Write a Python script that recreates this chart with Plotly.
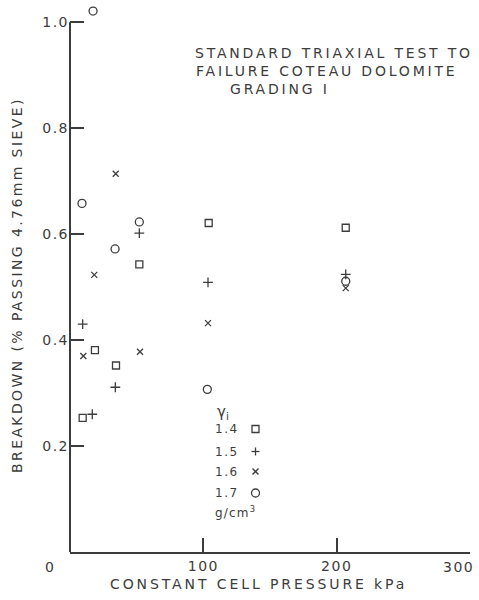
import plotly.graph_objects as go

# Constant cell pressure (kPa) and breakdown (% passing 4.76 mm sieve)
# for each initial dry density group
density_labels = ["1.4", "1.5", "1.6", "1.7"]

x_14 = [9.5, 18.7, 34.5, 52.0, 104.0, 206.8]
y_14 = [0.253, 0.381, 0.352, 0.543, 0.621, 0.612]

x_15 = [9.5, 16.7, 34.0, 52.0, 103.5, 206.8]
y_15 = [0.430, 0.260, 0.311, 0.602, 0.509, 0.524]

x_16 = [10.0, 18.2, 34.3, 52.5, 103.5, 206.8]
y_16 = [0.370, 0.523, 0.714, 0.378, 0.432, 0.498]

x_17 = [9.0, 17.3, 33.8, 52.0, 103.0, 206.8]
y_17 = [0.658, 1.021, 0.572, 0.623, 0.307, 0.511]

x_ticks = [100, 200]
x_end_tick = 300
y_ticks = [0.2, 0.4, 0.6, 0.8, 1.0]
y_tick_text = ["0.2", "0.4", "0.6", "0.8", "1.0"]

INK = "#3c3c3c"
FONT = "DejaVu Sans"

# plot area in pixels: x 70..470, y 1..552 (0 at bottom)
L, R, T, B = 70, 470, 1, 552


def px(xp):
    return (xp - L) / (R - L)


def py(yp):
    return (B - yp) / (B - T)


def spaced(text, s):
    return f'<span style="letter-spacing:{s}px">{text}</span>'


fig = go.Figure()

series = [
    (x_14, y_14, "square-open", 7),
    (x_15, y_15, "cross-thin-open", 7),
    (x_16, y_16, "x-thin-open", 6),
    (x_17, y_17, "circle-open", 8),
]
for (xs, ys, sym, size), lab in zip(series, density_labels):
    fig.add_trace(go.Scatter(
        x=xs, y=ys, mode="markers", name=lab, showlegend=False,
        cliponaxis=False,
        marker=dict(symbol=sym, size=size, color=INK,
                    line=dict(color=INK, width=1.3)),
    ))

fig.update_layout(
    width=479, height=600, autosize=False,
    margin=dict(l=L, r=479 - R, t=T, b=600 - B),
    paper_bgcolor="white", plot_bgcolor="white",
    font=dict(family=FONT, color=INK),
    xaxis=dict(
        range=[0, 300], showgrid=False, zeroline=False,
        showline=True, linecolor=INK, linewidth=2,
        ticks="inside", ticklen=14, tickwidth=1.5, tickcolor=INK,
        tickvals=x_ticks,
        ticktext=[spaced(str(v), 1.5) for v in x_ticks],
        tickfont=dict(size=14, color=INK),
        minor=dict(tickmode="array", tickvals=[x_end_tick], ticks="inside",
                   ticklen=14, tickwidth=1.5, tickcolor=INK, showgrid=False),
    ),
    yaxis=dict(
        range=[0, 1.04], showgrid=False, zeroline=False,
        showline=False,
        ticks="inside", ticklen=14, tickwidth=1.5, tickcolor=INK,
        tickvals=y_ticks,
        ticktext=[spaced(t, 1.5) for t in y_tick_text],
        tickfont=dict(size=14, color=INK),
    ),
)

ann = []
# origin and end-of-axis labels
ann.append(dict(text=spaced("0", 1), x=px(50), y=py(567), xref="paper", yref="paper",
                showarrow=False, font=dict(size=14), xanchor="center", yanchor="middle"))
ann.append(dict(text=spaced(str(x_end_tick), 1.5), x=px(458), y=py(567), xref="paper", yref="paper",
                showarrow=False, font=dict(size=14), xanchor="center", yanchor="middle"))
# axis titles
ann.append(dict(text=spaced("CONSTANT CELL PRESSURE kPa", 2.9), x=px(258), y=py(584),
                xref="paper", yref="paper", showarrow=False, font=dict(size=14),
                xanchor="center", yanchor="middle"))
ann.append(dict(text=spaced("BREAKDOWN (% PASSING 4.76mm SIEVE)", 2.4), x=px(17), y=py(285),
                xref="paper", yref="paper", showarrow=False, font=dict(size=14),
                textangle=-90, xanchor="center", yanchor="middle"))
# heading block
heading = [
    ("STANDARD TRIAXIAL TEST TO", 193, 53),
    ("FAILURE COTEAU DOLOMITE", 194, 71),
    ("GRADING I", 228, 89),
]
for txt, hx, hy in heading:
    ann.append(dict(text=spaced(txt, 2.8), x=px(hx), y=py(hy),
                    xref="paper", yref="paper", showarrow=False, font=dict(size=14),
                    xanchor="left", yanchor="middle"))

# key: density values with their symbols
ann.append(dict(text="γ<sub>i</sub>", x=px(215), y=py(412),
                xref="paper", yref="paper", showarrow=False, font=dict(size=15),
                xanchor="left", yanchor="middle"))
key_rows = [429, 451.5, 471.5, 493]
for lab, ky in zip(density_labels, key_rows):
    ann.append(dict(text=spaced(lab, 1.5), x=px(213), y=py(ky),
                    xref="paper", yref="paper", showarrow=False, font=dict(size=12),
                    xanchor="left", yanchor="middle"))
ann.append(dict(text=spaced("g/cm<sup>3</sup>", 1.2), x=px(213), y=py(512),
                xref="paper", yref="paper", showarrow=False, font=dict(size=12),
                xanchor="left", yanchor="middle"))

fig.update_layout(annotations=ann)

line_style = dict(color=INK, width=1.3)
shapes = []
# vertical axis line, running from 0 up to the top tick
shapes.append(dict(type="line", xref="paper", yref="y", x0=0, x1=0, y0=0, y1=y_ticks[-1],
                   line=dict(color=INK, width=2)))

# key symbols, sized in pixels around paper anchors
sym_x = px(255.5)


def key_shape(kind, ky, x0, x1, y0, y1):
    return dict(type=kind, xref="paper", yref="paper", xsizemode="pixel", ysizemode="pixel",
                xanchor=sym_x, yanchor=py(ky), x0=x0, x1=x1, y0=y0, y1=y1, line=line_style)


shapes.append(key_shape("rect", key_rows[0], -3.5, 3.5, -3.5, 3.5))
shapes.append(key_shape("line", key_rows[1], -4, 4, 0, 0))
shapes.append(key_shape("line", key_rows[1], 0, 0, -4, 4))
shapes.append(key_shape("line", key_rows[2], -3, 3, -3, 3))
shapes.append(key_shape("line", key_rows[2], -3, 3, 3, -3))
shapes.append(key_shape("circle", key_rows[3], -4, 4, -4, 4))
fig.update_layout(shapes=shapes)

fig.write_html("out.html")
